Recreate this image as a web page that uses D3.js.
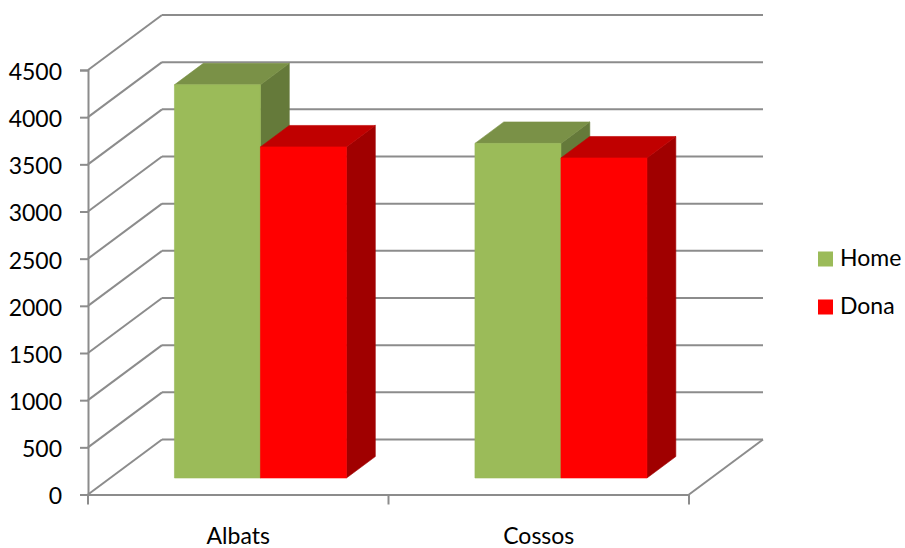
<!DOCTYPE html>
<html><head><meta charset="utf-8">
<script src="https://cdn.jsdelivr.net/npm/d3@7"></script>
<style>
html,body{margin:0;padding:0;background:#fff}
svg{display:block}
text{font-family:Lato,sans-serif;fill:#000}
</style></head><body>
<svg id="c" width="905" height="548"></svg>
<script>
const categories = ["Albats", "Cossos"];
const seriesNames = ["Home", "Dona"];
const homeValues = [4168, 3547];
const donaValues = [3510, 3393];
const yTicks = [0, 500, 1000, 1500, 2000, 2500, 3000, 3500, 4000, 4500];
const frontColors = ["#9BBB59", "#FF0000"];
const topColors = ["#7A9147", "#C00000"];
const sideColors = ["#657A3A", "#A00000"];

const values = [homeValues, donaValues];
const gridColor = "#8C8C8C";
const fontSize = 23;
const svg = d3.select("#c");

const left = 88, right = 689, base = 494.5, topY = 70;
const depthX = 74, depthY = 55;          // wall offset of the oblique projection
const barDepth0 = 0.3, barDepth1 = 0.69; // near and far faces of the bars

const y = d3.scaleLinear().domain([0, 4500]).range([base, topY]);
const x0 = d3.scaleBand().domain(categories).range([left, right])
  .paddingInner(0.4276).paddingOuter(0.2138);
const x1 = d3.scaleBand().domain(seriesNames).range([0, x0.bandwidth()]);
const cat = d3.scaleBand().domain(categories).range([left, right]);

const proj = (px, py, d) => [px + d * depthX, py - d * depthY];
const poly = (pts, fill) => svg.append("polygon")
  .attr("points", pts.map(p => p.join(",")).join(" "))
  .attr("fill", fill).attr("stroke", fill).attr("stroke-width", 0.6);
const seg = (a, b) => svg.append("line")
  .attr("x1", a[0]).attr("y1", a[1]).attr("x2", b[0]).attr("y2", b[1])
  .attr("stroke", gridColor).attr("stroke-width", 2);

// Walls
yTicks.forEach(t => {
  seg(proj(left, y(t), 0), proj(left, y(t), 1));
  seg(proj(left, y(t), 1), proj(right, y(t), 1));
});
seg(proj(right, y(0), 0), proj(right, y(0), 1));
// Category tick marks at band boundaries
[left, left + cat.step(), right].forEach(px => seg([px, base], [px, base + 10]));

// Axes
const yAxis = d3.axisLeft(y).tickValues(yTicks).tickSize(8).tickPadding(18).tickFormat(d3.format("d"));
const yG = svg.append("g").attr("transform", `translate(${left},0)`).call(yAxis);
const xAxis = d3.axisBottom(cat).tickSize(0).tickPadding(33);
const xG = svg.append("g").attr("transform", `translate(0,${base})`).call(xAxis);
[yG, xG].forEach(g => {
  g.attr("font-family", null).attr("font-size", null);
  g.selectAll("text").style("font-size", fontSize + "px");
  g.selectAll(".domain,.tick line").attr("stroke", gridColor).attr("stroke-width", 2);
});
yG.selectAll("text").attr("dy", "0.41em");

// Bars: each cube is near face, top and right side
const barBase = proj(0, y(0), barDepth0)[1];
const frontHeightShift = y(0) - barBase;
categories.forEach((c, ci) => {
  seriesNames.forEach((s, si) => {
    const xl = x0(c) + x1(s) + barDepth0 * depthX;
    const xr = xl + x1.bandwidth();
    const yb = barBase;
    const yt = y(values[si][ci]) - frontHeightShift;
    const ddx = (barDepth1 - barDepth0) * depthX, ddy = (barDepth1 - barDepth0) * depthY;
    poly([[xr, yt], [xr + ddx, yt - ddy], [xr + ddx, yb - ddy], [xr, yb]], sideColors[si]);
    poly([[xl, yt], [xr, yt], [xr + ddx, yt - ddy], [xl + ddx, yt - ddy]], topColors[si]);
    poly([[xl, yt], [xr, yt], [xr, yb], [xl, yb]], frontColors[si]);
  });
});

// Legend
const legend = d3.scaleBand().domain(seriesNames).range([234, 330]);
seriesNames.forEach((s, i) => {
  const cy = legend(s) + legend.bandwidth() / 2;
  svg.append("rect").attr("x", 818).attr("y", cy - 6.5).attr("width", 15).attr("height", 15).attr("fill", frontColors[i]);
  svg.append("text").attr("x", 840).attr("y", cy).attr("dy", "0.35em").style("font-size", fontSize + "px").text(s);
});
</script>
</body></html>
